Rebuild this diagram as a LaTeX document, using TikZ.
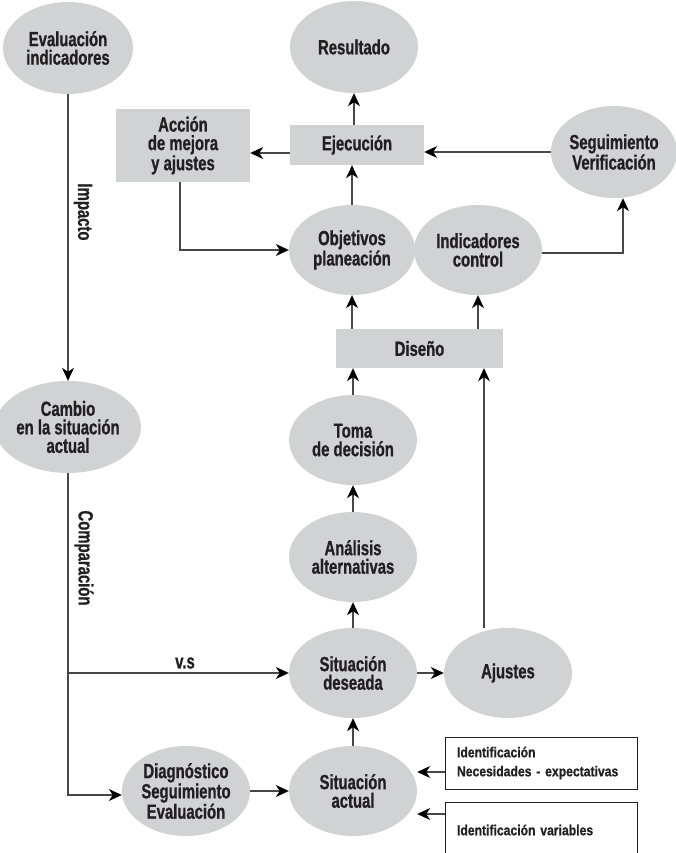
\documentclass[tikz,border=0pt]{standalone}
\usepackage{fontspec}
\setmainfont{Liberation Sans}[FakeStretch=0.725,FakeBold=0.8]
\newfontfamily\smallf{Liberation Sans}[FakeStretch=0.84,FakeBold=0.6]
\usetikzlibrary{shapes.geometric,arrows.meta,calc,backgrounds}
\definecolor{ovalgray}{RGB}{209,210,212}
\definecolor{txt}{RGB}{35,31,32}
\begin{document}
\begin{tikzpicture}[x=1pt,y=-1pt,
  oval/.style={ellipse,fill=ovalgray,minimum width=128pt,minimum height=90pt,inner sep=0pt,align=center,
    font=\bfseries\fontsize{20.5}{18.5}\selectfont,text=txt},
  gbox/.style={rectangle,fill=ovalgray,inner sep=0pt,align=center,
    font=\bfseries\fontsize{20.5}{18.5}\selectfont,text=txt},
  wbox/.style={rectangle,draw=txt,line width=1pt,fill=white,inner xsep=12pt,inner ysep=0pt,align=left,
    text width=168pt,minimum width=192pt,font=\smallf\bfseries\fontsize{14.5}{19}\selectfont,text=txt},
  lbl/.style={font=\bfseries\fontsize{20.5}{18.5}\selectfont,text=txt,inner sep=0pt},
  arr/.style={draw=black!72,line width=1.1pt,-{Stealth[length=13pt,width=12pt,inset=4pt,black]}},
  ln/.style={draw=black!72,line width=1.1pt}
]
\useasboundingbox (0,0) rectangle (676,853);
\clip (0,0) rectangle (676,853);

% ovals
\node[oval,minimum width=130pt,minimum height=92pt] (eval) at (68,48) {Evaluación\\indicadores};
\node[oval,minimum height=92pt] (resultado) at (354,47) {Resultado};
\node[oval,minimum width=122pt,minimum height=92pt] (seguim) at (614,152) {Seguimiento\\Verificación};
\node[oval,minimum width=126pt] (objetivos) at (352,250) {Objetivos\\planeación};
\node[oval] (indicadores) at (478,250) {Indicadores\\control};
\node[oval] (toma) at (353,440) {Toma\\de decisión};
\node[oval] (analisis) at (353,557) {Análisis\\alternativas};
\node[oval,minimum width=130pt,minimum height=92pt] (cambio) at (68,427) {Cambio\\en la situación\\actual};
\node[oval] (deseada) at (353,673) {Situación\\deseada};
\node[oval] (ajustes) at (508,673) {Ajustes};
\node[oval] (diag) at (186,791) {Diagnóstico\\Seguimiento\\Evaluación};
\node[oval] (actual) at (353,791) {Situación\\actual};

% grey boxes
\node[gbox,minimum width=134pt,minimum height=73pt] (accion) at (183,145.5) {Acción\\de mejora\\y ajustes};
\node[gbox,minimum width=134pt,minimum height=40pt] (ejec) at (357,145) {Ejecución};
\node[gbox,minimum width=167pt,minimum height=39pt] (diseno) at (419.5,348.5) {Diseño};

% white boxes
\node[wbox,minimum height=52pt] (box1) at (541,763) {Identificación\\Necesidades - expectativas};
\node[wbox,minimum height=56pt] (box2) at (541,830) {Identificación variables};

% labels
\node[lbl,rotate=-90] (impacto) at (83,212) {Impacto};
\node[lbl,rotate=-90] (compar) at (84,558) {Comparación};
\node[lbl] (vs) at (185,663) {v.s};

\coordinate (sgb) at ($(seguim.south)+(9,0)$);

\begin{scope}[on background layer]
\draw[arr] (eval.south) -- (cambio.north);
\draw[arr] (cambio.south) |- ([yshift=-4pt]diag.west);
\draw[arr] (cambio.south |- deseada.west) -- (deseada.west);
\draw[arr] (diag) -- (actual);
\draw[arr] (actual) -- (deseada);
\draw[arr] (deseada) -- (ajustes);
\draw[arr] (deseada) -- (analisis);
\draw[arr] (analisis) -- (toma);
\draw[arr] (toma.north) -- (toma.north |- diseno.south);
\draw[arr] (objetivos.south |- diseno.north) -- (objetivos.south);
\draw[arr] (indicadores.south |- diseno.north) -- (indicadores.south);
\draw[arr] ([xshift=-24pt]ajustes.north) -- ([xshift=-24pt]ajustes.north |- diseno.south);
\draw[arr] (objetivos.north) -- (objetivos.north |- ejec.south);
\draw[arr] (resultado.south |- ejec.north) -- (resultado.south);
\draw[arr] (seguim.west) -- (seguim.west -| ejec.east);
\draw[arr] ([yshift=-8pt]ejec.west) -- ([yshift=-8pt]ejec.west -| accion.east);
\draw[arr] ([xshift=-3pt]accion.south) |- (objetivos.west);
\draw[arr] ([yshift=-3pt]indicadores.east) -| (sgb);
\draw[arr] ([yshift=-9pt]box1.west) -- ([yshift=-9pt]box1.west -| actual.east);
\draw[arr] ([yshift=16pt]box2.west) -- ([yshift=16pt]box2.west -| actual.east);
\end{scope}
\end{tikzpicture}
\end{document}
